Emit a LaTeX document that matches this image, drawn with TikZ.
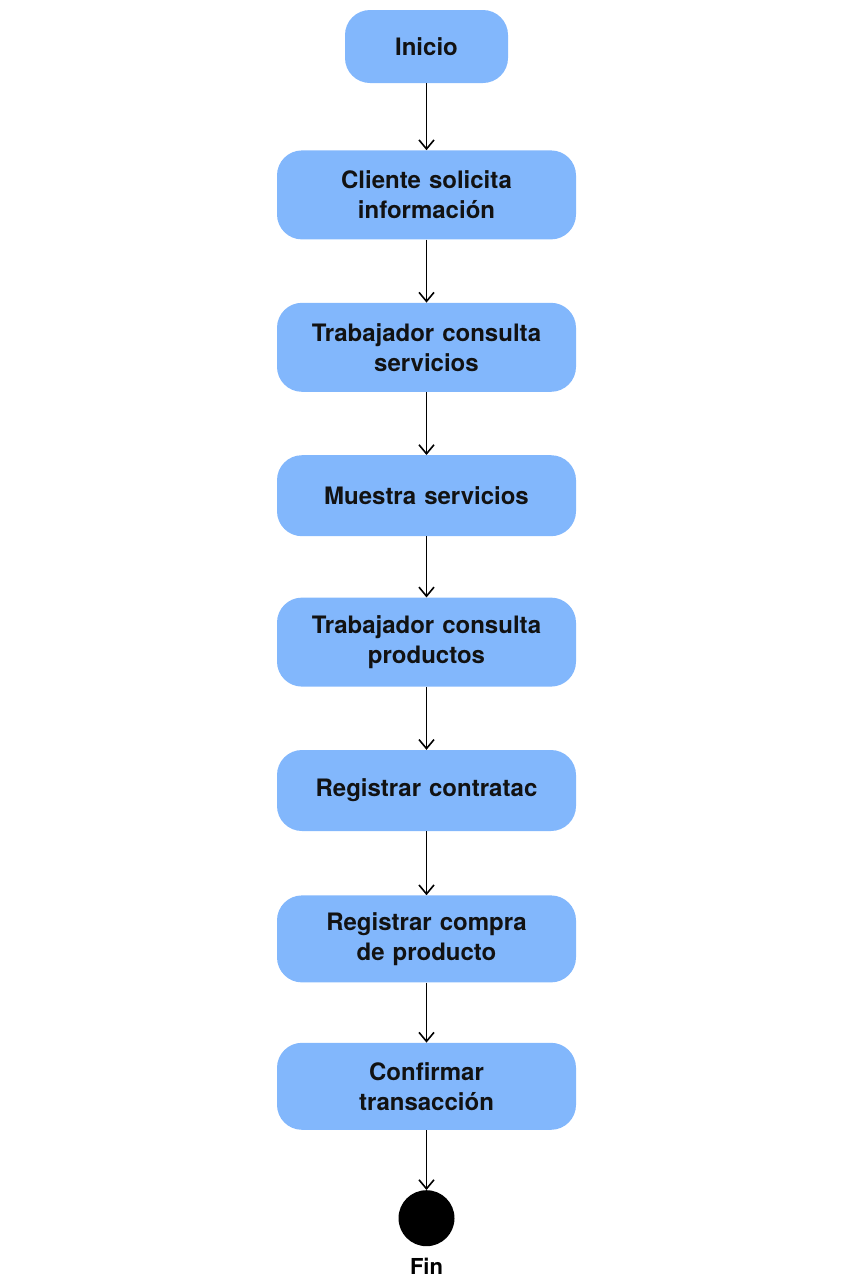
\documentclass[tikz,border=0pt]{standalone}
\usepackage{fontspec}
\setmainfont{TeX Gyre Heros}
\usetikzlibrary{shapes.geometric, arrows, arrows.meta, positioning, calc}

\definecolor{boxblue}{HTML}{82B7FC}

\begin{document}
\begin{tikzpicture}[
    x=1pt, y=1pt,
    node distance=63pt,
    box/.style={rectangle, rounded corners=25pt, fill=boxblue, draw=none, align=center, text width=290pt, minimum width=299pt, minimum height=89pt, inner sep=0pt, font=\fontsize{24}{30}\selectfont\bfseries, text=black!93},
    shortbox/.style={box, minimum height=81pt},
    arrow/.style={line width=1.6pt,-{Straight Barb[length=9pt,width=15pt,line width=1.6pt]}}
]
\useasboundingbox (0,0) rectangle (853,-1280);

% Start
\node (inicio) [box, text width=150pt, minimum width=163pt, minimum height=73pt] at (426.5,-46.5) {Inicio};

% Steps
\node (cliente) [box, below=67pt of inicio] {Cliente solicita\\información};
\node (consservicios) [box, below=of cliente] {Trabajador consulta\\servicios};
\node (muestra) [shortbox, below=of consservicios] {Muestra servicios};
\node (consproductos) [box, below=61pt of muestra] {Trabajador consulta\\productos};
\node (contratac) [shortbox, below=of consproductos] {Registrar contratac};
\node (compra) [box, minimum height=87pt, below=64pt of contratac] {Registrar compra\\de producto};
\node (confirmar) [box, minimum height=87pt, below=60pt of compra] {Confirmar\\transacción};

% End
\node (fin) [circle, fill=black, minimum size=56pt, inner sep=0pt, below=60pt of confirmar] {};
\node (finlabel) [below=11pt of fin, inner sep=0pt, font=\fontsize{22}{26}\selectfont\bfseries] {Fin};

% Connections
\draw [arrow] (inicio) -- (cliente);
\draw [arrow] (cliente) -- (consservicios);
\draw [arrow] (consservicios) -- (muestra);
\draw [arrow] (muestra) -- (consproductos);
\draw [arrow] (consproductos) -- (contratac);
\draw [arrow] (contratac) -- (compra);
\draw [arrow] (compra) -- (confirmar);
\draw [arrow] (confirmar) -- (fin);

\end{tikzpicture}
\end{document}
